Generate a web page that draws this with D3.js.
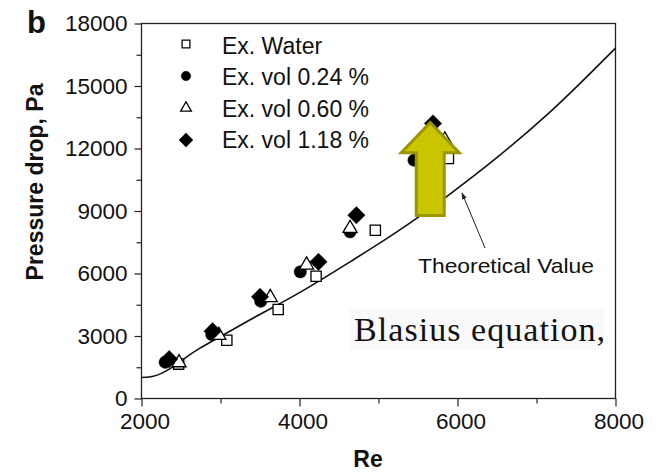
<!DOCTYPE html>
<html>
<head>
<meta charset="utf-8">
<script src="https://cdn.jsdelivr.net/npm/d3@7"></script>
<style>
  html, body { margin: 0; padding: 0; background: #fff; }
  svg { display: block; }
  text { font-family: "Liberation Sans", Arial, Helvetica, sans-serif; fill: #111; }
</style>
</head>
<body>
<svg id="chart" width="666" height="474"></svg>
<script>
// Pressure drop vs Reynolds number: measured points and Blasius prediction
const waterRe  = [2470, 3080, 3730, 4210, 4960, 5885];
const waterDp  = [1650, 2800, 4270, 5870, 8080, 11520];
const vol024Re = [2300, 2890, 3510, 4010, 4640, 5450];
const vol024Dp = [1740, 3070, 4670, 6080, 8000, 11440];
const vol060Re = [2475, 2980, 3630, 4090, 4640, 5840];
const vol060Dp = [1790, 3100, 4920, 6480, 8240, 12480];
const vol118Re = [2350, 2900, 3500, 4240, 4720, 5690];
const vol118Dp = [1890, 3230, 4880, 6560, 8800, 13200];

// Theoretical (Blasius) curve samples
const theoryRe = [2000, 2100, 2740, 3370, 4000, 4640, 5270, 5900, 6540, 7170, 8000];
const theoryDp = [1010, 1030, 2420, 3770, 5080, 6560, 8090, 9800, 11690, 13750, 16820];

const xTicks = [2000, 4000, 6000, 8000];
const xMinorTicks = [3000, 5000, 7000];
const yTicks = [0, 3000, 6000, 9000, 12000, 15000, 18000];
const yMinorTicks = [1500, 4500, 7500, 10500, 13500, 16500];

const legendLabels = ["Ex. Water", "Ex. vol 0.24 %", "Ex. vol 0.60 %", "Ex. vol 1.18 %"];

const svg = d3.select("#chart");
const x = d3.scaleLinear().domain([2000, 8000]).range([141.5, 615.5]);
const y = d3.scaleLinear().domain([0, 18000]).range([398.5, 23.5]);

// Axes
const fontSize = 22.5;
svg.append("g").attr("class", "x-major").attr("transform", `translate(0,${y(0)})`)
  .call(d3.axisBottom(x).tickValues(xTicks).tickFormat(d3.format("d"))
    .tickSize(8).tickPadding(7).tickSizeOuter(0));
svg.append("g").attr("transform", `translate(0,${y(0)})`)
  .call(d3.axisBottom(x).tickValues(xMinorTicks).tickFormat("").tickSize(5).tickSizeOuter(0));
svg.append("g").attr("transform", `translate(${x(2000)},0)`)
  .call(d3.axisLeft(y).tickValues(yTicks).tickFormat(d3.format("d"))
    .tickSize(7).tickPadding(7).tickSizeOuter(0));
svg.append("g").attr("transform", `translate(${x(2000)},0)`)
  .call(d3.axisLeft(y).tickValues(yMinorTicks).tickFormat("").tickSize(5).tickSizeOuter(0));

svg.selectAll(".domain").remove();
svg.selectAll(".tick line").attr("stroke", "#222").attr("stroke-width", 1.2);
svg.selectAll(".tick text")
  .style("font-family", '"Liberation Sans", Arial, sans-serif')
  .style("font-size", fontSize + "px").attr("fill", "#111");
svg.selectAll(".x-major .tick text").attr("dx", 3);

// Frame
svg.append("rect")
  .attr("x", x(2000)).attr("y", y(18000))
  .attr("width", x(8000) - x(2000)).attr("height", y(0) - y(18000))
  .attr("fill", "none").attr("stroke", "#222").attr("stroke-width", 1.3);

// Axis titles
svg.append("text").attr("x", 368).attr("y", 467).attr("text-anchor", "middle")
  .style("font-size", "23px").style("font-weight", "bold").text("Re");
svg.append("text").attr("transform", "translate(43,182) rotate(-90)")
  .attr("text-anchor", "middle")
  .style("font-size", "23px").style("font-weight", "bold").text("Pressure drop, Pa");
svg.append("text").attr("x", 27).attr("y", 33)
  .style("font-size", "31px").style("font-weight", "bold").text("b");

// Blasius label box
svg.append("rect").attr("x", 350).attr("y", 309).attr("width", 254).attr("height", 41)
  .attr("fill", "#f9f9f9");
svg.append("text").attr("x", 354).attr("y", 341)
  .attr("textLength", 251).attr("lengthAdjust", "spacing")
  .style("font-family", '"Liberation Serif", "Times New Roman", serif')
  .style("font-size", "34px").text("Blasius equation,");

// Theoretical curve
const theory = theoryRe.map((r, i) => [r, theoryDp[i]]);
svg.append("path").datum(theory)
  .attr("fill", "none").attr("stroke", "#111").attr("stroke-width", 1.6)
  .attr("d", d3.line().x(d => x(d[0])).y(d => y(d[1])).curve(d3.curveMonotoneX));

// Annotation for the theoretical curve
svg.append("defs").append("marker")
  .attr("id", "tip").attr("viewBox", "0 0 10 10").attr("refX", 9).attr("refY", 5)
  .attr("markerWidth", 7).attr("markerHeight", 7).attr("orient", "auto")
  .append("path").attr("d", "M0,1.5 L10,5 L0,8.5 Z").attr("fill", "#222");
svg.append("line").attr("x1", 485).attr("y1", 248).attr("x2", 462).attr("y2", 193)
  .attr("stroke", "#222").attr("stroke-width", 1)
  .attr("marker-end", "url(#tip)");
svg.append("text").attr("x", 418).attr("y", 273)
  .attr("textLength", 176).attr("lengthAdjust", "spacingAndGlyphs")
  .style("font-size", "21px").text("Theoretical Value");

// Marker shapes
const sym = {
  square:   { type: d3.symbolSquare,   fill: "#fff" },
  circle:   { type: d3.symbolCircle,   fill: "#000" },
  triangle: { type: d3.symbolTriangle, fill: "#fff" },
  diamond:  { type: d3.symbolSquare,   fill: "#000" }
};
const seriesDefs = [
  { re: waterRe,  dp: waterDp,  s: "square",   size: 105, lsize: 60 },
  { re: vol024Re, dp: vol024Dp, s: "circle",   size: 120, lsize: 70 },
  { re: vol060Re, dp: vol060Dp, s: "triangle", size: 85,  lsize: 50 },
  { re: vol118Re, dp: vol118Dp, s: "diamond",  size: 150, lsize: 95 }
];

function drawSymbol(g, s, size) {
  const p = g.append("path")
    .attr("d", d3.symbol().type(sym[s].type).size(size)())
    .attr("fill", sym[s].fill)
    .attr("stroke", "#000").attr("stroke-width", s === "triangle" || s === "square" ? 1.3 : 0.5);
  if (s === "diamond") p.attr("transform", "rotate(45)");
  return p;
}

seriesDefs.forEach(def => {
  def.re.forEach((r, i) => {
    const g = svg.append("g").attr("transform", `translate(${x(r)},${y(def.dp[i])})`);
    const p = drawSymbol(g, def.s, def.size);
    if (def.s === "triangle") p.attr("transform", "translate(0,1.5)");
  });
});

// Legend
const legendY = [44, 76, 107, 140];
const baseY = [53.5, 85, 116.5, 148];
seriesDefs.forEach((def, i) => {
  const g = svg.append("g").attr("transform", `translate(186,${legendY[i]})`);
  const p = drawSymbol(g, def.s, def.lsize);
  if (def.s === "triangle") p.attr("transform", "translate(0,1)");
  svg.append("text").attr("x", 222).attr("y", baseY[i])
    .style("font-size", "23px").text(legendLabels[i]);
});

// Highlight arrow pointing upward over the nanofluid points
const ax = x(5655), tipY = y(13250), headY = y(11800), tailY = y(8780);
const headHalf = 29, shaftHalf = 14;
const arrowPts = [
  [ax, tipY], [ax + headHalf, headY], [ax + shaftHalf, headY], [ax + shaftHalf, tailY],
  [ax - shaftHalf, tailY], [ax - shaftHalf, headY], [ax - headHalf, headY]
];
svg.append("path")
  .attr("d", d3.line()(arrowPts) + "Z")
  .attr("fill", "#c9c500").attr("stroke", "#9a9600").attr("stroke-width", 3)
  .attr("stroke-linejoin", "miter");
</script>
</body>
</html>
